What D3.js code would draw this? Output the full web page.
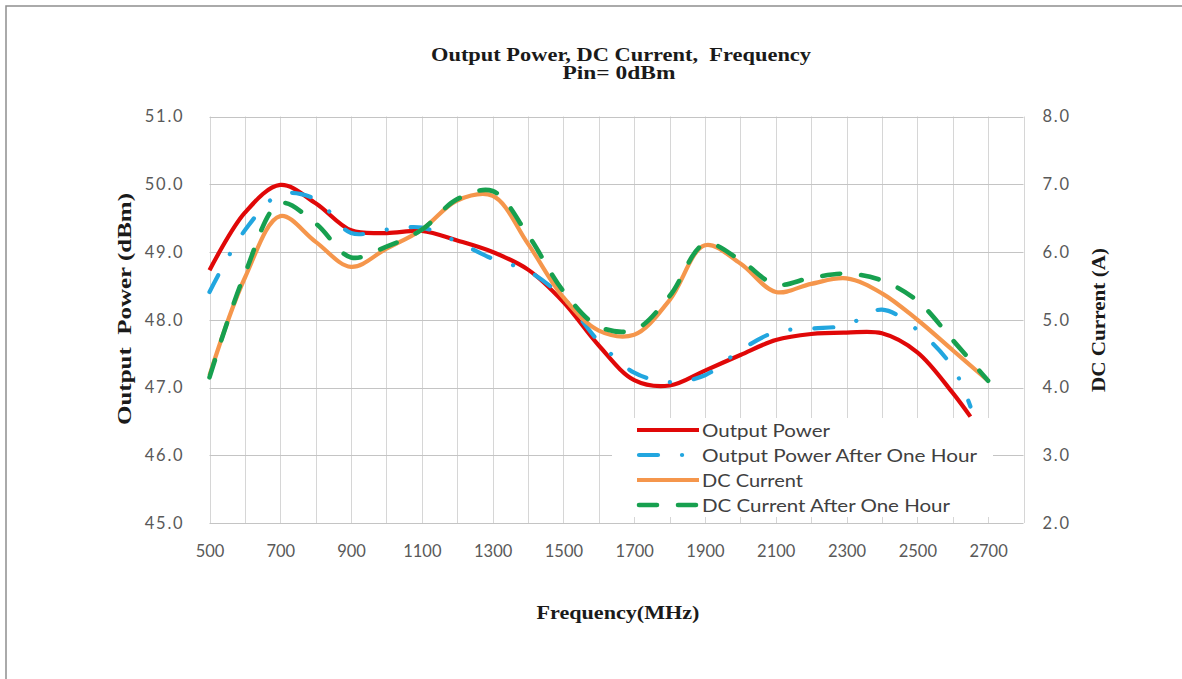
<!DOCTYPE html>
<html>
<head>
<meta charset="utf-8">
<script src="https://cdn.jsdelivr.net/npm/d3@7"></script>
<style>
  html, body { margin: 0; padding: 0; background: #ffffff; }
  svg { display: block; }
  text { white-space: pre; }
</style>
</head>
<body>
<svg id="chart" width="1182" height="679"></svg>
<script>
// ---------------- DATA ----------------
const powerFreq = [500,600,700,800,900,1000,1100,1200,1300,1400,1500,1600,1700,1800,1900,2000,2100,2200,2300,2400,2500,2600,2650];
const outputPower = [48.73,49.58,49.99,49.72,49.32,49.28,49.31,49.17,49.00,48.74,48.26,47.62,47.11,47.03,47.25,47.48,47.70,47.79,47.81,47.80,47.52,46.92,46.57];
const outputPowerHour = [48.41,49.32,49.85,49.78,49.28,49.33,49.36,49.15,48.90,48.72,48.32,47.68,47.22,47.08,47.18,47.55,47.82,47.87,47.92,48.15,47.85,47.30,46.72];

const currentFreq = [500,600,700,800,900,1000,1100,1200,1300,1400,1500,1600,1700,1800,1900,2000,2100,2200,2300,2400,2500,2600,2700];
const dcCurrent = [4.18,5.62,6.53,6.15,5.78,6.05,6.33,6.76,6.83,6.12,5.33,4.84,4.78,5.29,6.10,5.83,5.41,5.53,5.61,5.39,5.00,4.55,4.10];
const dcCurrentHour = [4.15,5.68,6.72,6.42,5.92,6.08,6.33,6.78,6.90,6.25,5.42,4.90,4.85,5.35,6.12,5.88,5.52,5.62,5.68,5.58,5.28,4.70,4.10];

const xLabelTicks = [500,700,900,1100,1300,1500,1700,1900,2100,2300,2500,2700];
const xGridTicks = d3.range(500, 2801, 100);
const leftTicks = [45,46,47,48,49,50,51];
const rightTicks = [2,3,4,5,6,7,8];

const seriesNames = ["Output Power","Output Power After One Hour","DC Current","DC Current After One Hour"];
const titleLines = ["Output Power, DC Current,  Frequency","Pin= 0dBm"];
const xTitle = "Frequency(MHz)";
const yLeftTitle = "Output  Power (dBm)";
const yRightTitle = "DC Current (A)";

// ---------------- LAYOUT ----------------
const svg = d3.select("#chart");
const L = 209.5, R = 1023.5, T = 116.5, B = 523;

const x = d3.scaleLinear().domain([500, 2800]).range([L, R]);
const yL = d3.scaleLinear().domain([45, 51]).range([B, T]);
const yR = d3.scaleLinear().domain([2, 8]).range([B, T]);

svg.append("rect").attr("width", 1182).attr("height", 679).attr("fill", "#fff");
// outer frame (cropped on right/bottom)
svg.append("path").attr("d", "M6,679 V6 H1182").attr("fill", "none")
   .attr("stroke", "#8f8f8f").attr("stroke-width", 1.5);

// gridlines
const grid = svg.append("g");
grid.selectAll("line.v").data(xGridTicks).join("line")
  .attr("x1", d => Math.round(x(d)) + 0.5).attr("x2", d => Math.round(x(d)) + 0.5)
  .attr("y1", T).attr("y2", B)
  .attr("stroke", "#d6d6d6").attr("stroke-width", 1);
grid.selectAll("line.h").data(leftTicks).join("line")
  .attr("x1", L).attr("x2", R)
  .attr("y1", d => Math.round(yL(d)) + 0.5).attr("y2", d => Math.round(yL(d)) + 0.5)
  .attr("stroke", "#c4c4c4").attr("stroke-width", 1);

// ---------------- SERIES ----------------
const curve = d3.curveCatmullRom.alpha(0.5);
const linePow = d3.line().x(d => x(d[0])).y(d => yL(d[1])).curve(curve);
const lineCur = d3.line().x(d => x(d[0])).y(d => yR(d[1])).curve(curve);

const styles = [
  { color: "#e00808", width: 4.2, dash: null, cap: "butt" },
  { color: "#22a6df", width: 4.2, dash: "19,24,0.1,24", cap: "round" },
  { color: "#f5964c", width: 4.2, dash: null, cap: "butt" },
  { color: "#17a04f", width: 4.6, dash: "18,21", cap: "round" }
];

const seriesData = [
  { pts: d3.zip(powerFreq, outputPower), gen: linePow },
  { pts: d3.zip(powerFreq, outputPowerHour), gen: linePow },
  { pts: d3.zip(currentFreq, dcCurrent), gen: lineCur },
  { pts: d3.zip(currentFreq, dcCurrentHour), gen: lineCur }
];

seriesData.forEach((s, i) => {
  const st = styles[i];
  svg.append("path")
    .attr("d", s.gen(s.pts))
    .attr("fill", "none")
    .attr("stroke", st.color)
    .attr("stroke-width", st.width)
    .attr("stroke-linecap", st.cap)
    .attr("stroke-linejoin", "round")
    .attr("stroke-dasharray", st.dash);
});

// ---------------- LEGEND ----------------
const leg = svg.append("g");
leg.append("rect").attr("x", 612).attr("y", 418).attr("width", 381).attr("height", 99).attr("fill", "#fff");
const legTextLen = [128, 275, 101, 248];
seriesNames.forEach((name, i) => {
  const yy = 430 + i * 25;
  const st = styles[i];
  leg.append("line")
    .attr("x1", st.cap === "round" ? 639 : 637).attr("x2", st.cap === "round" ? 697 : 699)
    .attr("y1", yy).attr("y2", yy)
    .attr("stroke", st.color).attr("stroke-width", st.width)
    .attr("stroke-linecap", st.cap)
    .attr("stroke-dasharray", st.dash);
  leg.append("text")
    .attr("x", 702).attr("y", yy + 6.5)
    .attr("font-family", "Lato, 'Liberation Sans', sans-serif")
    .attr("font-size", 18).attr("fill", "#404040")
    .attr("textLength", legTextLen[i]).attr("lengthAdjust", "spacingAndGlyphs")
    .text(name);
});

// ---------------- AXES ----------------
const tickFont = "Lato, 'Liberation Sans', sans-serif";
const gx = svg.append("g").attr("transform", `translate(0,${B})`)
  .call(d3.axisBottom(x).tickValues(xLabelTicks).tickSize(0).tickPadding(22).tickFormat(d3.format("d")));
const gl = svg.append("g").attr("transform", `translate(${L},0)`)
  .call(d3.axisLeft(yL).tickValues(leftTicks).tickSize(0).tickPadding(25).tickFormat(d3.format(".1f")));
const gr = svg.append("g").attr("transform", `translate(${R},0)`)
  .call(d3.axisRight(yR).tickValues(rightTicks).tickSize(0).tickPadding(19).tickFormat(d3.format(".1f")));
[gx, gl, gr].forEach(g => {
  g.select(".domain").remove();
  g.selectAll("text").attr("font-family", tickFont).attr("font-size", 16.5).attr("fill", "#595959");
});
gl.selectAll("text").attr("letter-spacing", "1.8px");
gr.selectAll("text").attr("letter-spacing", "1.8px");

// ---------------- TITLES ----------------
const serif = "'Liberation Serif', 'Times New Roman', serif";
svg.append("text").attr("x", 621).attr("y", 61).attr("text-anchor", "middle")
  .attr("font-family", serif).attr("font-weight", "bold").attr("font-size", 18).attr("fill", "#1a1a1a")
  .attr("textLength", 380).attr("lengthAdjust", "spacingAndGlyphs")
  .text(titleLines[0]);
svg.append("text").attr("x", 619).attr("y", 79).attr("text-anchor", "middle")
  .attr("font-family", serif).attr("font-weight", "bold").attr("font-size", 18).attr("fill", "#1a1a1a")
  .attr("textLength", 113).attr("lengthAdjust", "spacingAndGlyphs")
  .text(titleLines[1]);
svg.append("text").attr("x", 618).attr("y", 619).attr("text-anchor", "middle")
  .attr("font-family", serif).attr("font-weight", "bold").attr("font-size", 18).attr("fill", "#1a1a1a")
  .attr("textLength", 163).attr("lengthAdjust", "spacingAndGlyphs")
  .text(xTitle);
svg.append("text").attr("transform", "translate(131,309) rotate(-90)").attr("text-anchor", "middle")
  .attr("font-family", serif).attr("font-weight", "bold").attr("font-size", 18).attr("fill", "#1a1a1a")
  .attr("textLength", 232).attr("lengthAdjust", "spacingAndGlyphs")
  .text(yLeftTitle);
svg.append("text").attr("transform", "translate(1105,320) rotate(-90)").attr("text-anchor", "middle")
  .attr("font-family", serif).attr("font-weight", "bold").attr("font-size", 18).attr("fill", "#1a1a1a")
  .attr("textLength", 144).attr("lengthAdjust", "spacingAndGlyphs")
  .text(yRightTitle);
</script>
</body>
</html>
